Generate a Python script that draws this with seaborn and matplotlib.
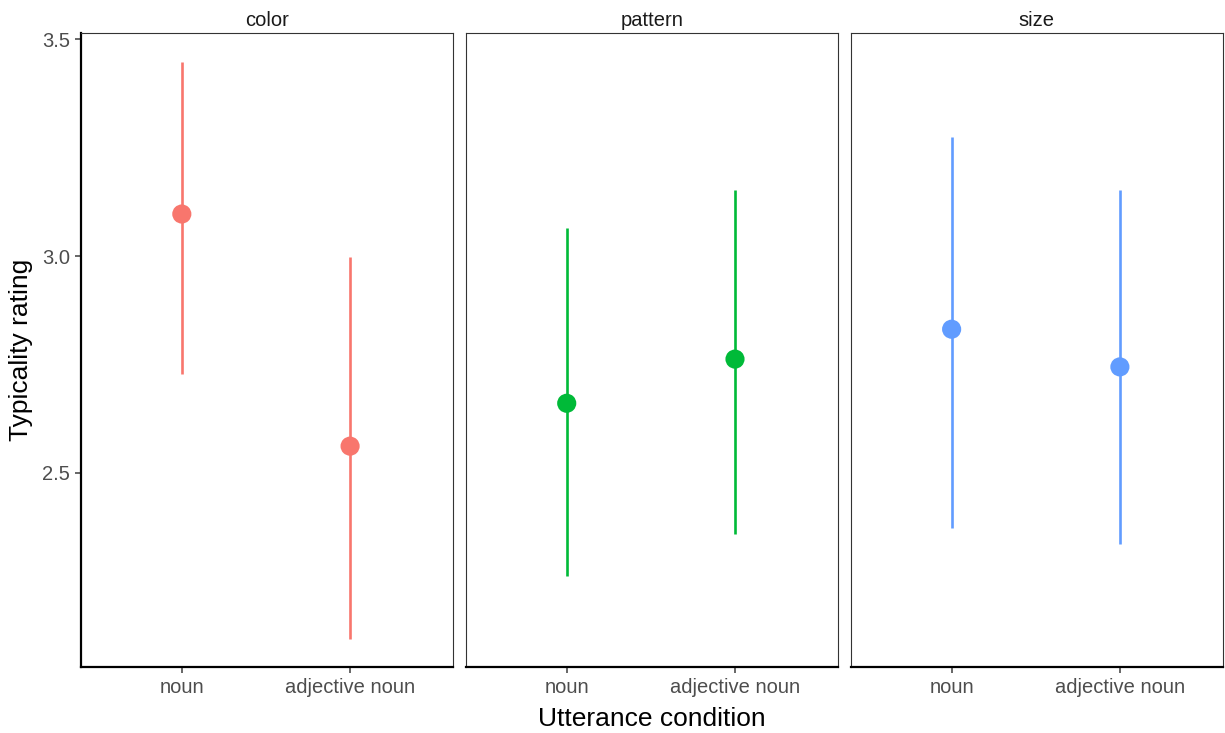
import pandas as pd
import matplotlib
matplotlib.use("Agg")
import matplotlib.pyplot as plt
import seaborn as sns

# Values
features = ["color", "pattern", "size"]
conditions = ["noun", "adjective noun"]
means = [[3.097, 2.561], [2.660, 2.762], [2.831, 2.744]]
ci_low = [[2.727, 2.115], [2.261, 2.358], [2.372, 2.335]]
ci_high = [[3.448, 2.998], [3.065, 3.152], [3.275, 3.152]]
palette = ["#F8766D", "#00BA38", "#619CFF"]

rows = []
for i, feat in enumerate(features):
    for j, cond in enumerate(conditions):
        rows.append({"feature": feat, "condition": cond, "pos": j,
                     "mean": means[i][j], "lo": ci_low[i][j], "hi": ci_high[i][j]})
df = pd.DataFrame(rows)

sns.set_style("white")
plt.rcParams["font.family"] = ["Liberation Sans", "DejaVu Sans"]

fig, axes = plt.subplots(1, 3, figsize=(12.25, 7.33), dpi=100, sharey=True)
fig.subplots_adjust(left=0.066, right=0.998, top=0.955, bottom=0.09, wspace=0.035)

for ax, feat, col in zip(axes, features, palette):
    sub = df[df["feature"] == feat]
    ax.vlines(sub["pos"], sub["lo"], sub["hi"], color=col, lw=1.9, zorder=2)
    sns.scatterplot(data=sub, x="pos", y="mean", color=col, s=190,
                    edgecolor="none", ax=ax, zorder=3, legend=False)
    ax.set_xlim(-0.6, 1.61)
    ax.set_ylim(2.051, 3.515)
    ax.set_xticks(range(len(conditions)))
    ax.set_xticklabels(conditions)
    ax.set_yticks([2.5, 3.0, 3.5])
    ax.set_yticklabels(["2.5", "3.0", "3.5"])
    ax.set_title(feat, fontsize=14.5, color="#1A1A1A", pad=5)
    ax.set_xlabel("")
    ax.set_ylabel("")
    for side in ["top", "right", "left"]:
        ax.spines[side].set_color("#333333")
        ax.spines[side].set_linewidth(0.8)
    ax.spines["bottom"].set_color("black")
    ax.spines["bottom"].set_linewidth(1.6)
    ax.tick_params(axis="both", colors="#4D4D4D", labelsize=14.5, length=4,
                   width=1.2, direction="out", bottom=True, left=True, pad=4)

axes[0].spines["left"].set_color("black")
axes[0].spines["left"].set_linewidth(1.6)
for ax in axes[1:]:
    ax.tick_params(axis="y", left=False, labelleft=False)

axes[0].set_ylabel("Typicality rating", fontsize=19, color="black", labelpad=6)
fig.text(0.532, 0.003, "Utterance condition", ha="center", va="bottom",
         fontsize=19, color="black")

plt.savefig("out.png", dpi=100)
plt.close()
